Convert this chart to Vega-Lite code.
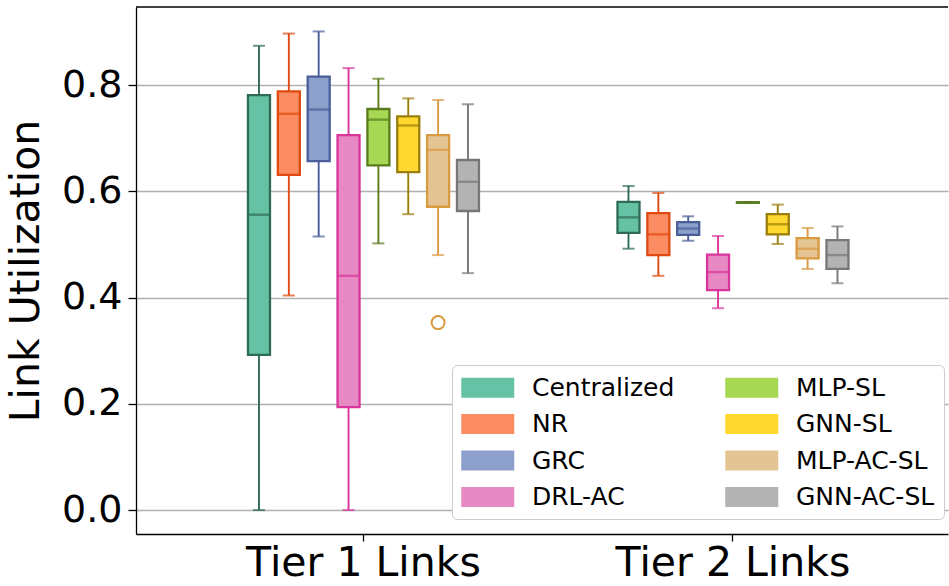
{
  "$schema": "https://vega.github.io/schema/vega-lite/v6.json",
  "width": 812,
  "height": 527,
  "autosize": {"type": "none"},
  "padding": {"left": 136, "top": 7, "right": 1, "bottom": 52},
  "background": "white",
  "config": {
    "font": "DejaVu Sans",
    "view": {"stroke": null},
    "axis": {"labelFont": "DejaVu Sans", "titleFont": "DejaVu Sans", "labelColor": "black", "titleColor": "black", "domainColor": "black", "tickColor": "black", "domainWidth": 1.3, "tickWidth": 1.3}
  },
  "datasets": {
    "stats": [
      {"tier": "Tier 1 Links", "method": "Centralized", "lower": 0.0, "q1": 0.292, "median": 0.556, "q3": 0.781, "upper": 0.874},
      {"tier": "Tier 1 Links", "method": "NR", "lower": 0.404, "q1": 0.631, "median": 0.746, "q3": 0.788, "upper": 0.897},
      {"tier": "Tier 1 Links", "method": "GRC", "lower": 0.515, "q1": 0.657, "median": 0.754, "q3": 0.816, "upper": 0.901},
      {"tier": "Tier 1 Links", "method": "DRL-AC", "lower": 0.0, "q1": 0.194, "median": 0.441, "q3": 0.706, "upper": 0.832},
      {"tier": "Tier 1 Links", "method": "MLP-SL", "lower": 0.502, "q1": 0.649, "median": 0.735, "q3": 0.755, "upper": 0.812},
      {"tier": "Tier 1 Links", "method": "GNN-SL", "lower": 0.557, "q1": 0.636, "median": 0.724, "q3": 0.741, "upper": 0.775},
      {"tier": "Tier 1 Links", "method": "MLP-AC-SL", "lower": 0.48, "q1": 0.571, "median": 0.678, "q3": 0.706, "upper": 0.772},
      {"tier": "Tier 1 Links", "method": "GNN-AC-SL", "lower": 0.446, "q1": 0.563, "median": 0.618, "q3": 0.659, "upper": 0.764},
      {"tier": "Tier 2 Links", "method": "Centralized", "lower": 0.492, "q1": 0.522, "median": 0.551, "q3": 0.58, "upper": 0.61},
      {"tier": "Tier 2 Links", "method": "NR", "lower": 0.441, "q1": 0.48, "median": 0.519, "q3": 0.559, "upper": 0.597},
      {"tier": "Tier 2 Links", "method": "GRC", "lower": 0.507, "q1": 0.518, "median": 0.53, "q3": 0.542, "upper": 0.553},
      {"tier": "Tier 2 Links", "method": "DRL-AC", "lower": 0.38, "q1": 0.414, "median": 0.448, "q3": 0.481, "upper": 0.516},
      {"tier": "Tier 2 Links", "method": "MLP-SL", "lower": 0.578, "q1": 0.5785, "median": 0.579, "q3": 0.5795, "upper": 0.58},
      {"tier": "Tier 2 Links", "method": "GNN-SL", "lower": 0.501, "q1": 0.519, "median": 0.538, "q3": 0.557, "upper": 0.575},
      {"tier": "Tier 2 Links", "method": "MLP-AC-SL", "lower": 0.454, "q1": 0.474, "median": 0.492, "q3": 0.512, "upper": 0.531},
      {"tier": "Tier 2 Links", "method": "GNN-AC-SL", "lower": 0.427, "q1": 0.454, "median": 0.48, "q3": 0.508, "upper": 0.534}
    ],
    "outliers": [
      {"tier": "Tier 1 Links", "method": "MLP-AC-SL", "value": 0.353}
    ]
  },
  "layer": [
    {
      "data": {"values": [{}]},
      "mark": {"type": "rule", "color": "black", "strokeWidth": 1.3},
      "encoding": {"y": {"datum": 0.947, "type": "quantitative", "scale": {"domain": [-0.045, 0.947], "nice": false, "zero": false}}}
    },
    {
      "data": {"name": "stats"},
      "mark": {"type": "rule", "strokeWidth": 1.9},
      "encoding": {
        "x": {"field": "tier", "type": "nominal", "scale": {"paddingInner": 0.2133, "paddingOuter": 0.2054, "align": 0.541},
              "axis": {"title": null, "labelAngle": 0, "labelFontSize": 41, "labelLimit": 600, "labelPadding": 2, "tickSize": 7, "grid": false}},
        "xOffset": {"field": "method", "type": "nominal", "scale": {"domain": ["Centralized", "NR", "GRC", "DRL-AC", "MLP-SL", "GNN-SL", "MLP-AC-SL", "GNN-AC-SL"], "paddingInner": 0.263, "paddingOuter": 1}},
        "y": {"field": "lower", "type": "quantitative", "scale": {"domain": [-0.045, 0.947], "nice": false, "zero": false},
              "axis": {"title": "Link Utilization", "titleFontSize": 41, "titleFontWeight": "normal", "titlePadding": 14, "values": [0, 0.2, 0.4, 0.6, 0.8], "format": ".1f", "labelFontSize": 38, "labelPadding": 6, "tickSize": 8, "grid": true, "gridColor": "#b0b0b0", "gridWidth": 1.5}},
        "y2": {"field": "upper"},
        "color": {"field": "method", "type": "nominal", "legend": null,
                  "scale": {"domain": ["GNN-AC-SL", "MLP-AC-SL", "GNN-SL", "MLP-SL", "DRL-AC", "GRC", "NR", "Centralized"], "range": ["#777777", "#d99a40", "#9a7e0c", "#5b7c1e", "#d9359b", "#4a5e9a", "#e04a10", "#2e6b56"]}}
      }
    },
    {
      "data": {"name": "stats"},
      "mark": {"type": "tick", "size": 12, "thickness": 2, "orient": "horizontal"},
      "encoding": {
        "x": {"field": "tier", "type": "nominal"},
        "xOffset": {"field": "method", "type": "nominal"},
        "y": {"field": "lower", "type": "quantitative"},
        "color": {"field": "method", "type": "nominal", "legend": null}
      }
    },
    {
      "data": {"name": "stats"},
      "mark": {"type": "tick", "size": 12, "thickness": 2, "orient": "horizontal"},
      "encoding": {
        "x": {"field": "tier", "type": "nominal"},
        "xOffset": {"field": "method", "type": "nominal"},
        "y": {"field": "upper", "type": "quantitative"},
        "color": {"field": "method", "type": "nominal", "legend": null}
      }
    },
    {
      "data": {"name": "stats"},
      "mark": {"type": "bar", "strokeWidth": 2.3, "opacity": 1},
      "encoding": {
        "x": {"field": "tier", "type": "nominal"},
        "xOffset": {"field": "method", "type": "nominal"},
        "y": {"field": "q1", "type": "quantitative"},
        "y2": {"field": "q3"},
        "fill": {"field": "method", "type": "nominal",
                 "scale": {"domain": ["Centralized", "NR", "GRC", "DRL-AC", "MLP-SL", "GNN-SL", "MLP-AC-SL", "GNN-AC-SL"], "range": ["#66c2a5", "#fc8d62", "#8da0cb", "#e78ac3", "#a6d854", "#ffd92f", "#e5c494", "#b3b3b3"]},
                 "legend": {"title": null, "orient": "none", "legendX": 316, "legendY": 358, "columns": 2, "symbolType": "M-1,-0.755H3V0.755H-1Z", "symbolSize": 702.25, "symbolStrokeWidth": 0, "symbolOpacity": 1, "labelFontSize": 25, "labelFont": "DejaVu Sans", "labelColor": "black", "labelOffset": 44, "rowPadding": 9.5, "columnPadding": 50, "padding": 9, "strokeColor": "#cccccc", "fillColor": "white", "cornerRadius": 5, "labelLimit": 400}},
        "stroke": {"field": "method", "type": "nominal", "legend": null,
                   "scale": {"domain": ["GNN-AC-SL", "MLP-AC-SL", "GNN-SL", "MLP-SL", "DRL-AC", "GRC", "NR", "Centralized"], "range": ["#777777", "#d99a40", "#9a7e0c", "#5b7c1e", "#d9359b", "#4a5e9a", "#e04a10", "#2e6b56"]}}
      }
    },
    {
      "data": {"name": "stats"},
      "mark": {"type": "tick", "size": 23, "thickness": 2.4, "orient": "horizontal"},
      "encoding": {
        "x": {"field": "tier", "type": "nominal"},
        "xOffset": {"field": "method", "type": "nominal"},
        "y": {"field": "median", "type": "quantitative"},
        "color": {"field": "method", "type": "nominal", "legend": null}
      }
    },
    {
      "data": {"name": "outliers"},
      "mark": {"type": "point", "filled": false, "size": 170, "strokeWidth": 2, "opacity": 1},
      "encoding": {
        "x": {"field": "tier", "type": "nominal"},
        "xOffset": {"field": "method", "type": "nominal"},
        "y": {"field": "value", "type": "quantitative"},
        "color": {"field": "method", "type": "nominal", "legend": null}
      }
    }
  ]
}
